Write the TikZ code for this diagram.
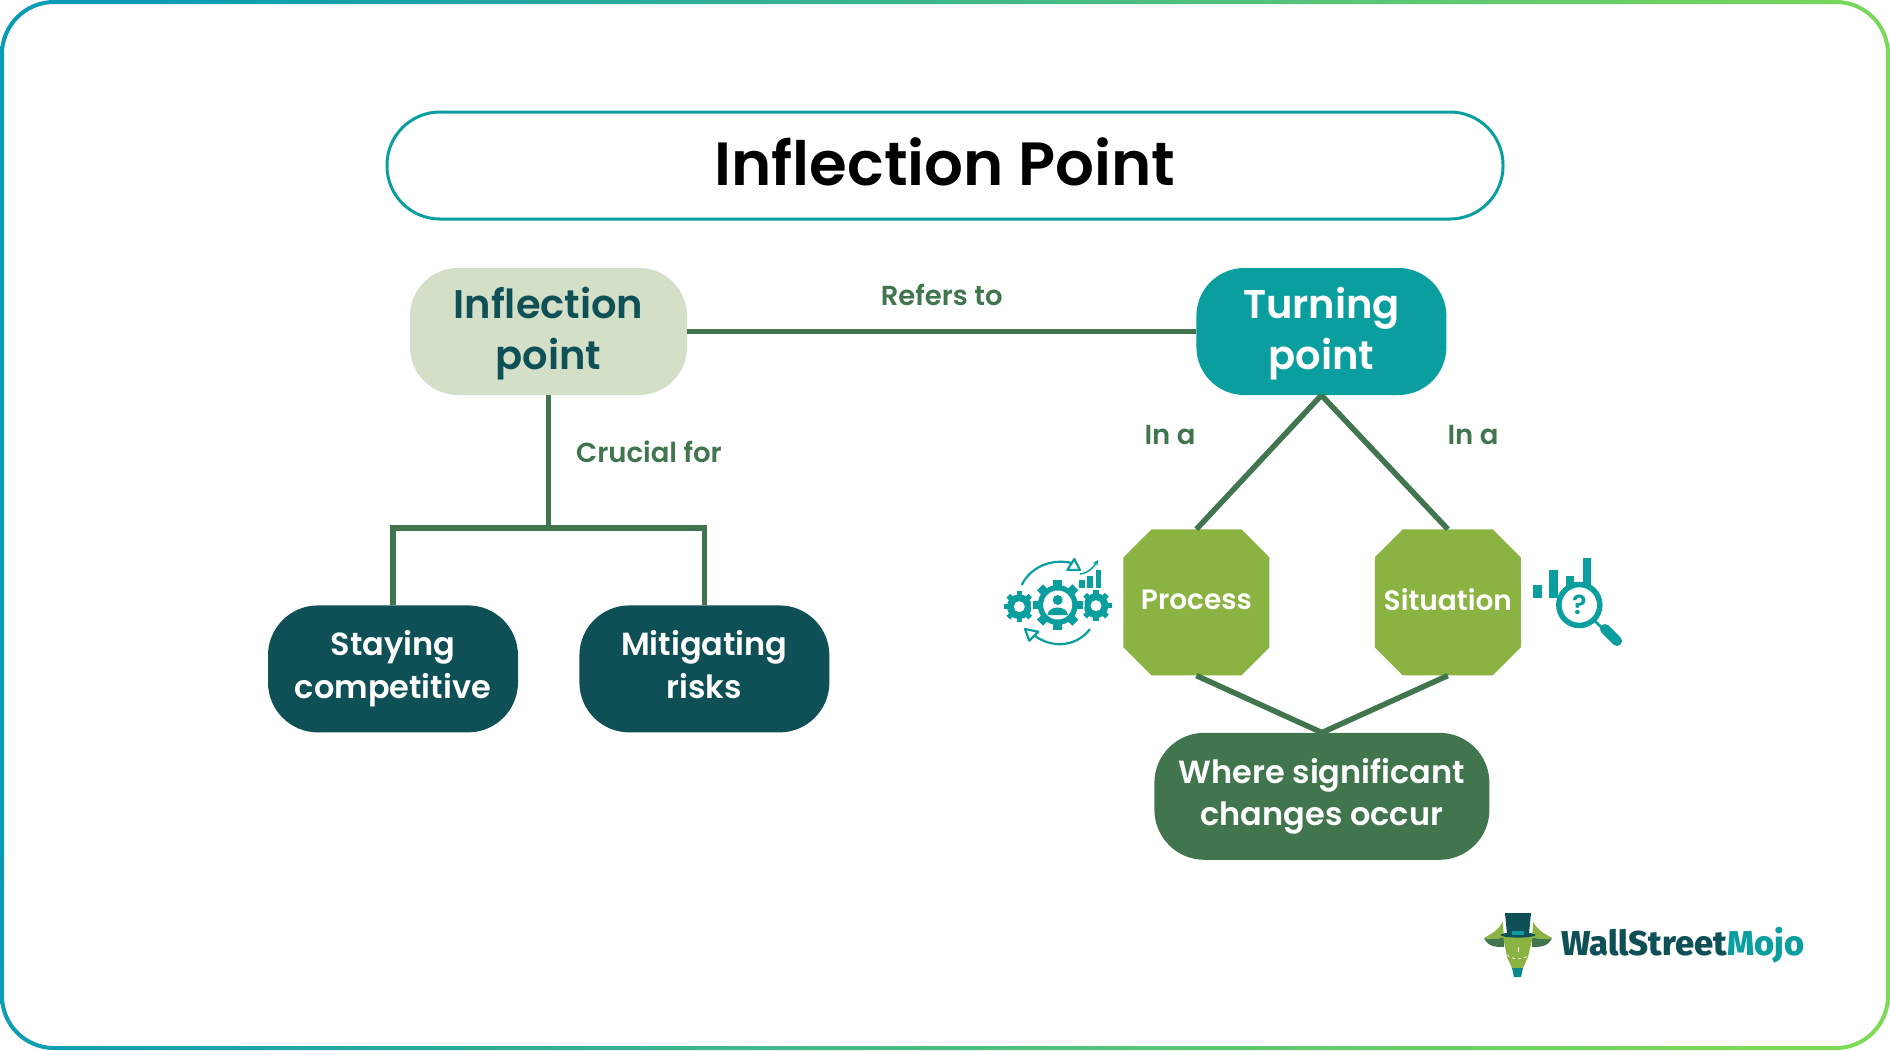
\documentclass[tikz,border=0pt]{standalone}
\usepackage{fontspec}
\setmainfont{Poppins}[BoldFont=Poppins SemiBold]
\newfontfamily\logofont{Fira Sans}[BoldFont=Fira Sans ExtraBold]
\usepackage{tikz}
\usetikzlibrary{arrows,positioning}
\definecolor{deepteal}{HTML}{0F5057}
\definecolor{brightteal}{HTML}{0A9E9F}
\definecolor{palegreen}{HTML}{D3DFC7}
\definecolor{leafgreen}{HTML}{8AB342}
\definecolor{forest}{HTML}{41754D}
\definecolor{frameleft}{HTML}{0A9BB5}
\definecolor{frameright}{HTML}{7ED957}
\tikzset{
  big box/.style    = {rectangle, rounded corners=48pt, inner sep=0pt, minimum width=#1, minimum height=127pt,
                       align=center, font=\fontsize{40}{50.6}\selectfont\bfseries},
  small box/.style  = {rectangle, rounded corners=50pt, inner sep=0pt, minimum width=#1, minimum height=127pt,
                       align=center, text=white, font=\fontsize{32}{42.5}\selectfont\bfseries},
  octa/.style       = {rectangle, text=white, inner sep=0pt, minimum width=146pt, minimum height=146pt,
                       text depth=5pt, font=\fontsize{28}{30}\selectfont\bfseries,
                       path picture={\fill[leafgreen]
                         ([xshift=28pt]path picture bounding box.north west)
                         -- ([xshift=-28pt]path picture bounding box.north east)
                         -- ([yshift=-28pt]path picture bounding box.north east)
                         -- ([yshift=28pt]path picture bounding box.south east)
                         -- ([xshift=-28pt]path picture bounding box.south east)
                         -- ([xshift=28pt]path picture bounding box.south west)
                         -- ([yshift=28pt]path picture bounding box.south west)
                         -- ([yshift=-28pt]path picture bounding box.north west) -- cycle;}},
  link/.style       = {draw=forest, line width=5.5pt},
  say/.style        = {text=forest, font=\fontsize{27.5}{30}\selectfont\bfseries},
  icon/.style       = {brightteal},
}
\newcommand{\lowline}{\rule{0pt}{35.5pt}}
% gear: x, y, radius, hole
\newcommand{\gearicon}[4]{%
  \begin{scope}[shift={(#1,#2)}]
    \fill[icon] (0,0) circle (0.8*#3);
    \foreach \t in {1,...,8} \fill[icon,rotate=\t*45] (-0.17*#3,0) rectangle (0.17*#3,#3);
    \fill[white] (0,0) circle (#4);
  \end{scope}}
% one horn of the logo, #1 = 1 or -1 for the side
\newcommand{\hornicon}[1]{%
  \begin{scope}[shift={(1518,0)},xscale=#1]
    \fill[leafgreen] (-15.3,921.7) .. controls (-19,930) and (-27,934) .. (-34,938)
       .. controls (-30,941) and (-22,938) .. (-14,938) -- cycle;
    \fill[forest] (-34,938) .. controls (-30,947) and (-22,947) .. (-14,947) -- (-14,938)
       .. controls (-22,938) and (-30,941) .. (-34,938) -- cycle;
  \end{scope}}
\begin{document}
\begin{tikzpicture}[x=1pt,y=-1pt]
  \useasboundingbox (0,0) rectangle (1890,1050);
  % frame
  \shade[even odd rule,left color=frameleft,right color=frameright,shading angle=80]
    (0,0) [rounded corners=54pt] rectangle (1890,1050)
    (4,4) [rounded corners=50pt] rectangle (1886,1046);

  \node[draw=brightteal, line width=3pt, rounded corners=53pt, minimum width=1116pt, minimum height=107pt,
        inner sep=0pt, text depth=7pt, font=\fontsize{61}{70}\selectfont\bfseries] (title) at (945,165.5) {Inflection Point};

  \node[big box=277pt, fill=palegreen, text=deepteal] (inflection) at (548.5,331.5) {\lowline Inflection\\point};
  \node[big box=250pt, fill=brightteal, text=white] (turning) [right=509pt of inflection] {\lowline Turning\\point};
  \node[small box=250pt, fill=deepteal] (staying) [below=210pt of inflection, xshift=-155.5pt] {Staying\\competitive};
  \node[small box=250pt, fill=deepteal] (mitigating) [right=61pt of staying] {Mitigating\\risks\vphantom{p}};
  \node[octa] (process) [below=134pt of turning, xshift=-125pt] {Process};
  \node[octa] (situation) [right=105pt of process] {Situation};
  \node[small box=335pt, fill=forest] (changes) [below=57pt of process, xshift=125.5pt] {Where significant\\changes occur};
  \coordinate[below=133pt of inflection] (fork);

  \draw[link] (inflection) -- node[say, above=20pt] (refers) {Refers to} (turning);
  \draw[link] (inflection) -- (fork);
  \draw[link] (staying.north) |- (fork) -| (mitigating.north);
  \draw[link] (turning.south) -- (process.north);
  \draw[link] (turning.south) -- (situation.north);
  \draw[link] (process.south) -- (changes.north);
  \draw[link] (situation.south) -- (changes.north);
  \node[say] (crucial) at (649,452) {Crucial for};
  \node[say] (ina left) at (1170,435) {In a};
  \node[say] (ina right) at (1473,435) {In a};

  % process icon
  \gearicon{1019.3}{606.7}{15.5}{5.5}
  \gearicon{1096}{605.7}{15.5}{5.5}
  \fill[white] (1057.7,605) circle (27);
  \gearicon{1057.7}{605}{25}{14.5}
  \fill[icon] (1057.7,600) circle (5);
  \fill[icon] (1047.5,615) .. controls (1048,605) and (1067,605) .. (1068,615) -- cycle;
  \draw[icon,line width=2.2pt] (1021.7,585) .. controls (1030,568) and (1050,558) .. (1072,563);
  \draw[icon,line width=2.2pt] (1090,629) .. controls (1078,645) and (1055,650) .. (1035,636);
  \draw[icon,fill=white,line width=2.2pt,line join=round] (1074.3,559) -- (1067.3,570) -- (1080,570) -- cycle;
  \draw[icon,fill=white,line width=2.2pt,line join=round] (1025,629) -- (1038.3,631.7) -- (1029.3,640.7) -- cycle;
  \draw[icon,line width=1.5pt,-stealth] (1080,574) .. controls (1088,573) and (1093,568) .. (1098,560);
  \fill[icon] (1079.3,580) rectangle (1085.3,588.3);
  \fill[icon] (1087.3,576) rectangle (1093.3,588.3);
  \fill[icon] (1095.7,570) rectangle (1101.3,588.3);

  % situation icon
  \fill[icon] (1532.7,585) rectangle (1541.7,598.3);
  \fill[icon] (1549.3,570) rectangle (1558,598.3);
  \fill[icon] (1565.7,576) rectangle (1574.3,590);
  \fill[icon] (1582.7,558.3) rectangle (1591.3,590);
  \draw[icon,fill=white,line width=5.5pt] (1579.3,605) circle (20.5);
  \node[icon,inner sep=0pt,font=\fontsize{27}{30}\selectfont\bfseries] (quest) at (1579.3,605) {?};
  \draw[icon,line width=2.5pt] (1594,620) -- (1604,630);
  \draw[icon,line width=10pt,line cap=round] (1605,629) -- (1617,641);

  % logo
  \hornicon{1}
  \hornicon{-1}
  \fill[leafgreen] (1503,936) -- (1533,936) -- (1528,957) -- (1523,968) -- (1512,968) -- (1507,957) -- cycle;
  \fill[brightteal!70!deepteal] (1512,968) -- (1523,968) -- (1521,977) -- (1514,977) -- cycle;
  \draw[white,line width=.7pt] (1518,947) -- (1518,952);
  \draw[white,line width=.7pt,dashed] (1507,955) .. controls (1512,960) and (1524,960) .. (1529,955);
  \fill[deepteal] (1505,913) -- (1531,913) -- (1529,934) -- (1507,934) -- cycle;
  \fill[deepteal] (1518,935) ellipse (17.5 and 2.6);
  \fill[brightteal] (1512,931) rectangle (1524,935);
  \node[text=deepteal, anchor=west, inner sep=0pt, font=\logofont\fontsize{34.5}{36}\selectfont\bfseries] (logo) at (1561,945)
     {WallStreet\textcolor{brightteal}{Mojo}};
\end{tikzpicture}
\end{document}
